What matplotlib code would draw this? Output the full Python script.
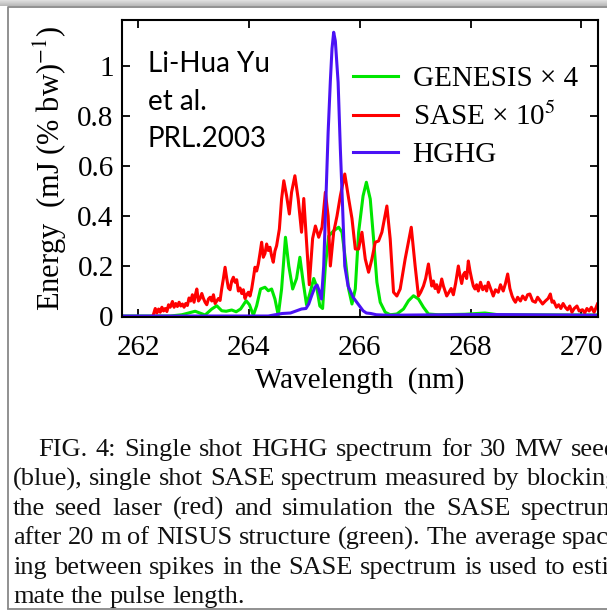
import numpy as np
import matplotlib
matplotlib.use("Agg")
import matplotlib.pyplot as plt

plt.rcParams['font.family'] = ['Liberation Serif', 'DejaVu Serif']
plt.rcParams['mathtext.fontset'] = 'stix'

# ---------- spectra (wavelength in nm, energy in mJ/(% bw)) ----------
sase_wl = [262.28, 262.31, 262.34, 262.37, 262.40, 262.43, 262.46, 262.49, 262.52, 262.55,
           262.58, 262.62, 262.65, 262.68, 262.71, 262.74, 262.77, 262.80, 262.83, 262.86,
           262.89, 262.92, 262.95, 262.98, 263.01, 263.04, 263.06, 263.09, 263.12, 263.15,
           263.18, 263.21, 263.24, 263.27, 263.30, 263.33, 263.36, 263.39, 263.42, 263.45,
           263.48, 263.51, 263.54, 263.57, 263.60, 263.63, 263.66, 263.69, 263.72, 263.75,
           263.78, 263.81, 263.84, 263.87, 263.90, 263.93, 263.96, 263.99, 264.02, 264.05,
           264.08, 264.11, 264.14, 264.17, 264.20, 264.23, 264.26, 264.29, 264.32, 264.35,
           264.38, 264.41, 264.44, 264.47, 264.50,
           264.55, 264.59, 264.63, 264.68, 264.73, 264.77, 264.83, 264.89, 264.95, 264.99,
           265.04, 265.09, 265.15, 265.20, 265.26, 265.32, 265.38, 265.43, 265.47, 265.53,
           265.59, 265.65, 265.73, 265.80, 265.86, 265.92, 265.98, 266.04, 266.10, 266.16,
           266.22, 266.28, 266.34, 266.40, 266.49, 266.55, 266.61, 266.67, 266.73, 266.82,
           266.93, 267.00, 267.06, 267.10, 267.15, 267.19, 267.24, 267.27, 267.30, 267.33,
           267.36, 267.39, 267.42, 267.45, 267.48, 267.51, 267.54, 267.57, 267.61, 267.65,
           267.69, 267.73, 267.78, 267.81, 267.84, 267.87, 267.90, 267.93, 267.96, 267.99,
           268.02, 268.05, 268.08, 268.11, 268.14, 268.18, 268.22, 268.26, 268.29, 268.32,
           268.36, 268.41, 268.45, 268.50, 268.54, 268.59, 268.63, 268.67, 268.71, 268.75,
           268.78, 268.81, 268.85, 268.90, 268.94, 268.99, 269.03, 269.07, 269.12, 269.17,
           269.21, 269.26, 269.30, 269.35, 269.40, 269.44, 269.47, 269.50, 269.55, 269.59,
           269.63, 269.67, 269.71, 269.75, 269.79, 269.83, 269.87, 269.92, 269.96, 270.02,
           270.06, 270.10, 270.14, 270.18, 270.23, 270.29]
sase_e = [0.008, 0.030, 0.012, 0.028, 0.015, 0.035, 0.020, 0.030, 0.018, 0.045,
          0.035, 0.058, 0.035, 0.050, 0.038, 0.055, 0.040, 0.048, 0.035, 0.050,
          0.042, 0.072, 0.060, 0.085, 0.055, 0.090, 0.108, 0.060, 0.070, 0.090,
          0.070, 0.055, 0.045, 0.068, 0.075, 0.060, 0.085, 0.050, 0.060, 0.070,
          0.062, 0.110, 0.150, 0.195, 0.150, 0.112, 0.105, 0.140, 0.155, 0.135,
          0.145, 0.100, 0.112, 0.090, 0.105, 0.070, 0.085, 0.095, 0.080, 0.108,
          0.150, 0.195, 0.180, 0.208, 0.250, 0.295, 0.235, 0.250, 0.288, 0.262,
          0.275, 0.240, 0.215, 0.260, 0.281,
          0.348, 0.468, 0.541, 0.481, 0.408, 0.495, 0.561, 0.468, 0.335, 0.470,
          0.300, 0.125, 0.310, 0.360, 0.315, 0.355, 0.495, 0.400, 0.200, 0.335,
          0.400, 0.480, 0.568, 0.470, 0.390, 0.268, 0.268, 0.335, 0.228, 0.175,
          0.228, 0.295, 0.300, 0.335, 0.440, 0.308, 0.095, 0.080, 0.108, 0.228,
          0.355, 0.200, 0.080, 0.095, 0.120, 0.150, 0.208, 0.160, 0.120, 0.140,
          0.110, 0.125, 0.095, 0.115, 0.148, 0.120, 0.100, 0.080, 0.095, 0.110,
          0.085, 0.130, 0.200, 0.160, 0.130, 0.165, 0.175, 0.150, 0.220, 0.180,
          0.148, 0.120, 0.108, 0.125, 0.100, 0.135, 0.105, 0.120, 0.100, 0.135,
          0.110, 0.080, 0.105, 0.095, 0.125, 0.100, 0.130, 0.168, 0.110, 0.080,
          0.065, 0.055, 0.075, 0.060, 0.080, 0.065, 0.085, 0.088, 0.060, 0.055,
          0.075, 0.060, 0.048, 0.060, 0.070, 0.088, 0.055, 0.060, 0.035, 0.045,
          0.030, 0.050, 0.035, 0.025, 0.040, 0.015, 0.030, 0.040, 0.020, 0.025,
          0.012, 0.030, 0.020, 0.035, 0.015, 0.048]

genesis_wl = [261.71, 262.58, 262.79, 263.03, 263.21, 263.33, 263.42, 263.51, 263.59, 263.69,
              263.77, 263.85, 263.95, 264.01, 264.08, 264.14, 264.21, 264.29, 264.35, 264.41,
              264.47, 264.53, 264.59, 264.66, 264.72, 264.79, 264.86, 264.92, 264.98, 265.04,
              265.10, 265.17, 265.22, 265.28, 265.33, 265.38, 265.44, 265.53, 265.62, 265.68,
              265.74, 265.80, 265.86, 265.92, 265.98, 266.06, 266.12, 266.19, 266.25, 266.31,
              266.37, 266.46, 266.55, 266.67, 266.79, 266.88, 266.97, 267.06, 267.15, 267.24,
              267.42, 267.90, 268.26, 268.50, 270.30]
genesis_e = [0.0, 0.0, 0.005, 0.019, 0.004, 0.028, 0.041, 0.021, 0.019, 0.024,
             0.017, 0.028, 0.061, 0.045, 0.003, 0.041, 0.108, 0.115, 0.101, 0.108,
             0.068, 0.003, 0.108, 0.315, 0.200, 0.108, 0.150, 0.235, 0.135, 0.045,
             0.090, 0.150, 0.120, 0.040, 0.030, 0.200, 0.320, 0.341, 0.355, 0.335,
             0.228, 0.108, 0.048, 0.108, 0.335, 0.480, 0.535, 0.468, 0.308, 0.135,
             0.055, 0.015, 0.005, 0.008, 0.028, 0.061, 0.081, 0.068, 0.035, 0.008,
             0.005, 0.007, 0.012, 0.005, 0.004]

hghg_wl = [261.71, 264.35, 264.45, 264.60, 264.75, 264.85, 264.95, 265.03, 265.08, 265.13,
           265.19, 265.23, 265.27, 265.31, 265.35, 265.40, 265.43, 265.47, 265.50, 265.53,
           265.56, 265.61, 265.65, 265.69, 265.73, 265.79, 265.88, 265.97, 266.06, 266.12,
           266.20, 266.30, 266.50, 267.00, 268.30, 269.00, 270.30]
hghg_e = [0.0, 0.0, 0.004, 0.010, 0.012, 0.020, 0.028, 0.030, 0.048, 0.080,
          0.115, 0.124, 0.100, 0.068, 0.200, 0.535, 0.735, 0.940, 1.070, 1.135,
          1.100, 0.935, 0.670, 0.440, 0.200, 0.120, 0.075, 0.048, 0.021, 0.012,
          0.010, 0.005, 0.003, 0.004, 0.006, 0.005, 0.003]

x_ticks = [262, 264, 266, 268, 270]
y_ticks = [0, 0.2, 0.4, 0.6, 0.8, 1]
y_tick_labels = ['0', '0.2', '0.4', '0.6', '0.8', '1']

note_lines = ['Li-Hua Yu', 'et al.', 'PRL.2003']

caption_lines = [
    "FIG. 4: Single shot HGHG spectrum for 30 MW seed",
    "(blue), single shot SASE spectrum measured by blocking",
    "the seed laser (red) and simulation the SASE spectrum",
    "after 20 m of NISUS structure (green). The average spac-",
    "ing between spikes in the SASE spectrum is used to esti-",
    "mate the pulse length.",
]

W, H = 607, 610
fig = plt.figure(figsize=(W / 100, H / 100), dpi=100)
fig.patch.set_facecolor('white')

ax = fig.add_axes([122 / W, 1 - 317 / H, 476 / W, 297 / H])
ax.plot(genesis_wl, genesis_e, color='#00e600', lw=2.2, label='GENESIS × 4')
ax.plot(sase_wl, sase_e, color='#ff0000', lw=2.2, label='SASE × 10$^{5}$')
ax.plot(hghg_wl, hghg_e, color='#4a12f5', lw=2.2, label='HGHG')

ax.set_xlim(261.71, 270.3)
ax.set_ylim(-0.004, 1.184)
ax.set_xticks(x_ticks)
ax.set_yticks(y_ticks)
ax.set_yticklabels(y_tick_labels)
ax.tick_params(direction='in', length=6, width=1.3, top=True, right=True,
               labelsize=21)
ax.tick_params(axis='x', pad=13)
ax.tick_params(axis='y', pad=6)
for s in ax.spines.values():
    s.set_linewidth(1.5)
ax.set_xlabel('Wavelength  (nm)', fontsize=21, labelpad=4)
ax.set_ylabel('Energy  (mJ (% bw)$^{-1}$)', fontsize=22, labelpad=6)

ax.legend(loc='upper left', bbox_to_anchor=(0.485, 0.846), frameon=False,
          fontsize=21, handlelength=1.55, handletextpad=0.5,
          labelspacing=0.36, borderpad=0, borderaxespad=0)

# overlay in pixel coordinates for the page frame, note and caption
bg = fig.add_axes([0, 0, 1, 1], zorder=5)
bg.set_xlim(0, W)
bg.set_ylim(H, 0)
bg.axis('off')
bg.patch.set_alpha(0)

grad = np.linspace(0.88, 0.72, 20).reshape(-1, 1)
bg.imshow(grad, extent=(0, W, 6, 0), cmap='gray', vmin=0, vmax=1, aspect='auto')
bg.plot([8, 8, W + 5], [H - 1, 7, 7], color='#888888', lw=1.3, solid_capstyle='butt')
bg.plot([8, W + 5], [H - 1, H - 1], color='#888888', lw=1.3)

for i, s in enumerate(note_lines):
    bg.text(148, 72 + 37.6 * i, s, fontsize=20, family='Lato', va='baseline')

renderer = fig.canvas.get_renderer()


def word_width(w, size):
    t = bg.text(0, 0, w, fontsize=size)
    wd = t.get_window_extent(renderer).width
    t.remove()
    return wd


# justified caption; lines run on past the right edge of the page crop
cap_size = 19
right_edge = 618
space = word_width('a b', cap_size) - word_width('ab', cap_size)
for i, line in enumerate(caption_lines):
    words = line.split(' ')
    x0 = 38 if i == 0 else 13
    y = 456 + 29.4 * i
    widths = [word_width(w, cap_size) for w in words]
    if i == len(caption_lines) - 1:
        gap = space
    else:
        gap = (right_edge - x0 - sum(widths)) / (len(words) - 1)
    x = x0
    for w, wd in zip(words, widths):
        bg.text(x, y, w, fontsize=cap_size, va='baseline', color='#111111')
        x += wd + gap

fig.savefig('out.png', dpi=100)
